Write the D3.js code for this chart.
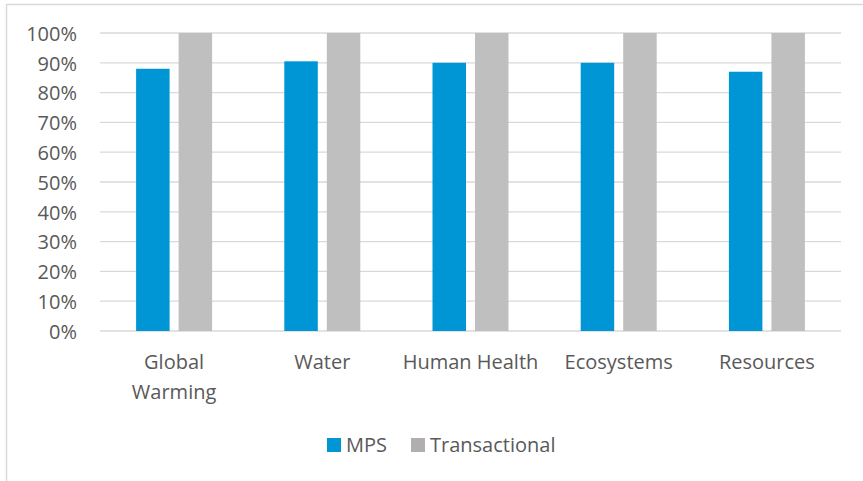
<!DOCTYPE html>
<html><head><meta charset="utf-8">
<script src="https://cdn.jsdelivr.net/npm/d3@7"></script>
<style>body{margin:0;background:#fff;}svg{display:block;}</style>
</head><body>
<svg id="c" width="863" height="481"></svg>
<script>
const categories = [["Global","Warming"],["Water"],["Human Health"],["Ecosystems"],["Resources"]];
const seriesNames = ["MPS","Transactional"];
const mps = [0.88, 0.905, 0.90, 0.90, 0.87];
const transactional = [1, 1, 1, 1, 1];
const tickValues = [0,0.1,0.2,0.3,0.4,0.5,0.6,0.7,0.8,0.9,1.0];
const colors = ["#0096D6","#BFBFBF"];
const legendColors = ["#0096D6","#B0AEAE"];

const svg = d3.select("#c");
const font = "'Open Sans', 'Noto Sans', sans-serif";
const txt = "#595959";
const fs = "20px";

svg.append("rect").attr("x",6.5).attr("y",4.5).attr("width",860).attr("height",480)
  .attr("fill","#fff").attr("stroke","#D9D9D9").attr("stroke-width",1.5);

const x0 = d3.scaleBand().domain(d3.range(categories.length)).range([100,841]).paddingInner(0).paddingOuter(0);
const y = d3.scaleLinear().domain([0,1]).range([331,33]);
const x1 = d3.scaleBand().domain(seriesNames).range([36.1,112.1]).paddingInner(0.212).paddingOuter(0);

// gridlines
svg.append("g").selectAll("line").data(tickValues).join("line")
  .attr("x1",100).attr("x2",841).attr("y1",d=>y(d)).attr("y2",d=>y(d))
  .attr("stroke","#D9D9D9").attr("stroke-width",1.3);

// y axis labels
const yAxis = d3.axisLeft(y).tickValues(tickValues).tickFormat(d3.format(".0%")).tickSize(0).tickPadding(0);
const gy = svg.append("g").attr("transform","translate(77,0)").call(yAxis);
gy.select(".domain").remove();
gy.selectAll("text").attr("fill",txt).style("font-family",font).style("font-size",fs).attr("dy","0.36em");

// bars
const data = categories.map((c,i)=>({i, vals:[mps[i], transactional[i]]}));
const g = svg.append("g");
g.selectAll("g").data(data).join("g")
  .attr("transform",d=>`translate(${x0(d.i)},0)`)
  .selectAll("rect").data(d=>d.vals.map((v,k)=>({k,v}))).join("rect")
  .attr("x",d=>x1(seriesNames[d.k])).attr("width",x1.bandwidth())
  .attr("y",d=>y(d.v)).attr("height",d=>y(0)-y(d.v))
  .attr("fill",d=>colors[d.k]);

// x labels
const xl = svg.append("g");
categories.forEach((lines,i)=>{
  const cx = x0(i)+x0.bandwidth()/2;
  const t = xl.append("text").attr("x",cx).attr("y",369)
    .attr("text-anchor","middle").attr("fill",txt).style("font-family",font).style("font-size",fs);
  lines.forEach((l,j)=>t.append("tspan").attr("x",cx).attr("dy",j?30:0).text(l));
});

// legend
const leg = svg.append("g");
const legItems = [{n:seriesNames[0],c:legendColors[0],x:327},{n:seriesNames[1],c:legendColors[1],x:411}];
legItems.forEach(d=>{
  leg.append("rect").attr("x",d.x).attr("y",438).attr("width",14).attr("height",14).attr("fill",d.c);
  leg.append("text").attr("x",d.x+19).attr("y",452).attr("fill",txt).style("font-family",font).style("font-size",fs).text(d.n);
});
</script>
</body></html>
